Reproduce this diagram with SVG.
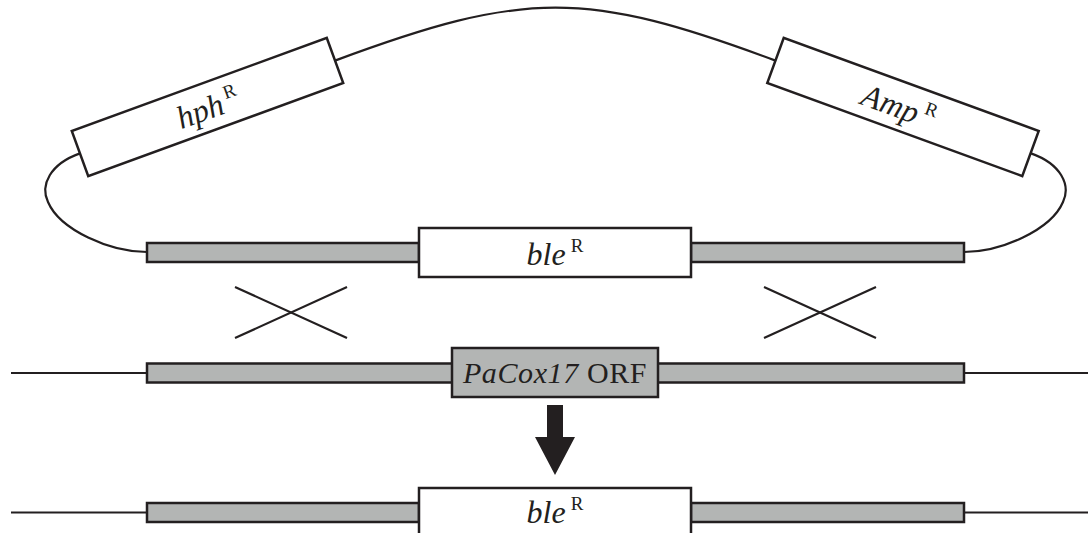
<svg xmlns="http://www.w3.org/2000/svg" width="1088" height="533" viewBox="0 0 1088 533">
<style>
.bar{fill:#b3b5b4;stroke:#231f20;stroke-width:2.5}
.box{fill:#ffffff;stroke:#231f20;stroke-width:2.5}
.gbox{fill:#b3b5b4;stroke:#231f20;stroke-width:2.5}
.ln{fill:none;stroke:#231f20;stroke-width:2.2}
.t{font-family:"Liberation Serif","Times New Roman",serif;font-size:32px;fill:#231f20}
.orf{font-size:30px;letter-spacing:0.6px}
.it{font-style:italic}
.sup{font-size:19px;font-style:normal}
</style>
<rect width="1088" height="533" fill="#ffffff"/>
<g id="connectors">
<path class="ln" d="M335,60.6 C525,-10 586,-10 775.5,60.6"/>
<path class="ln" d="M80,153.4 C50,164 40,185 48,202 C60,230 110,252 147,252"/>
<path class="ln" d="M1031,153.4 C1061,164 1071,185 1063,202 C1051,230 1001,252 964,252"/>
<line class="ln" x1="235" y1="287" x2="347" y2="338"/>
<line class="ln" x1="235" y1="338" x2="347" y2="287"/>
<line class="ln" x1="764" y1="287" x2="876" y2="338"/>
<line class="ln" x1="764" y1="338" x2="876" y2="287"/>
<line class="ln" x1="11" y1="373" x2="147" y2="373"/>
<line class="ln" x1="964" y1="373" x2="1088" y2="373"/>
<line class="ln" x1="11" y1="512.5" x2="147" y2="512.5"/>
<line class="ln" x1="964" y1="512.5" x2="1088" y2="512.5"/>
<polygon fill="#231f20" points="547,405 563,405 563,437 575,437 555,475 535,437 547,437"/>
</g>
<g id="hph">
<g transform="translate(207.5,107) rotate(-20.04)">
<rect class="box" x="-135.7" y="-24" width="271.4" height="48"/>
<text class="t" x="0" y="12" text-anchor="middle"><tspan class="it">hph</tspan><tspan class="sup" dx="4" dy="-13">R</tspan></text>
</g>
</g>
<g id="amp">
<g transform="translate(903,107) rotate(20.04)">
<rect class="box" x="-135.7" y="-24" width="271.4" height="48"/>
<text class="t" x="-4" y="12" text-anchor="middle"><tspan class="it">Amp</tspan><tspan class="sup" dx="5" dy="-13">R</tspan></text>
</g>
</g>
<g id="cassette">
<rect class="bar" x="147" y="243" width="272" height="19"/>
<rect class="bar" x="691" y="243" width="273" height="19"/>
<rect class="box" x="419" y="228" width="272" height="49"/>
<text class="t" x="555" y="265" text-anchor="middle"><tspan class="it">ble</tspan><tspan class="sup" dx="5" dy="-13">R</tspan></text>
</g>
<g id="genome">
<rect class="bar" x="147" y="363.5" width="817" height="19"/>
<rect class="gbox" x="452" y="348" width="206" height="49"/>
<text class="t orf" x="555" y="383" text-anchor="middle"><tspan class="it">PaCox17</tspan> ORF</text>
</g>
<g id="result">
<rect class="bar" x="147" y="503" width="272" height="19"/>
<rect class="bar" x="691" y="503" width="273" height="19"/>
<rect class="box" x="419" y="488" width="272" height="60"/>
<text class="t" x="555" y="523" text-anchor="middle"><tspan class="it">ble</tspan><tspan class="sup" dx="5" dy="-13">R</tspan></text>
</g>
</svg>
